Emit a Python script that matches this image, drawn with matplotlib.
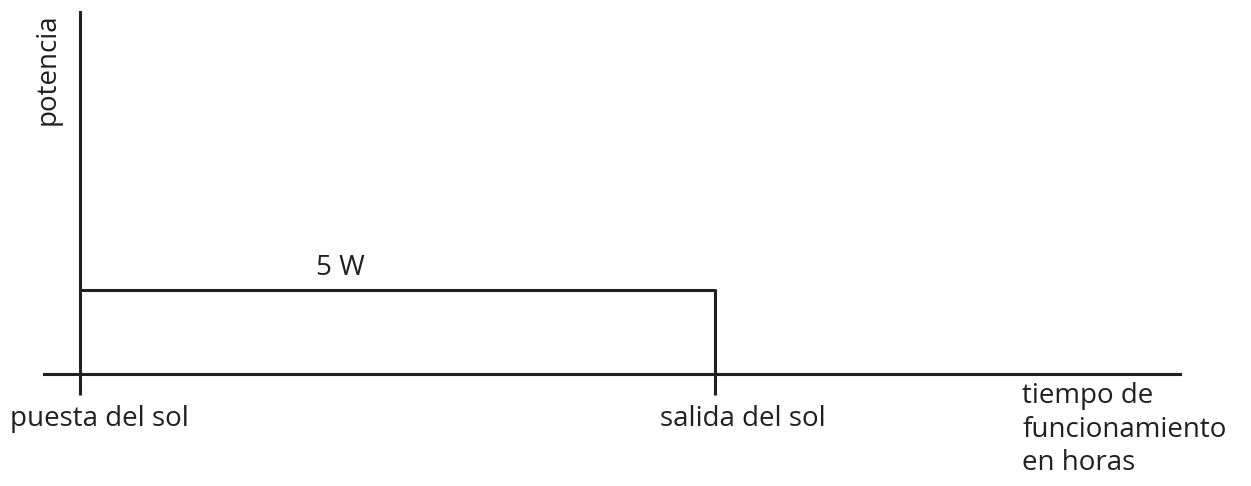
import matplotlib
matplotlib.use("Agg")
import matplotlib.pyplot as plt

# data: light runs from sunset to sunrise at constant power
hours = [0, 12]
power = [5, 5]
tick_labels = ["puesta del sol", "salida del sol"]
power_label = "5 W"
x_label = "tiempo de\nfuncionamiento\nen horas"
y_label = "potencia"

ink = "#231f20"
fs = 20
plt.rcParams["font.family"] = ["Open Sans", "DejaVu Sans"]

fig = plt.figure(figsize=(12.51, 4.86), dpi=100)
ax = fig.add_axes([0, 0, 1, 1])
ax.set_xlim(-1.51, 22.13)
ax.set_ylim(-6.67, 22.26)

# power curve: flat line then drop at sunrise
ax.plot([hours[0], hours[1], hours[1]], [power[0], power[1], 0],
        color=ink, lw=2.2, solid_capstyle="butt")
ax.annotate(power_label, xy=(4.92, power[0]), xytext=(0, 6),
            textcoords="offset points", ha="center", va="bottom",
            fontsize=fs, color=ink)

# axes as crossing lines
for s in ["top", "right"]:
    ax.spines[s].set_visible(False)
ax.spines["left"].set_position(("data", 0))
ax.spines["bottom"].set_position(("data", 0))
ax.spines["left"].set_bounds(0, 21.55)
ax.spines["bottom"].set_bounds(-0.68, 20.79)
for s in ["left", "bottom"]:
    ax.spines[s].set_linewidth(2.2)
    ax.spines[s].set_color(ink)

ax.set_yticks([])
ax.set_xticks(hours)
ax.set_xticklabels(["", ""])
ax.tick_params(axis="x", direction="out", length=15, width=2.2,
               color=ink)
ax.patch.set_visible(False)

# tick labels sit a bit to the right of their ticks
for h, lab, dx in zip(hours, tick_labels, [14.4, 19.8]):
    ax.annotate(lab, xy=(h, 0), xytext=(dx, -22),
                textcoords="offset points", ha="center", va="top",
                fontsize=fs, color=ink)

ax.set_ylabel(y_label, fontsize=fs, color=ink)
ax.yaxis.set_label_coords(62 / 1251, 1 - 69 / 486)

ax.text(17.81, -0.5, x_label, ha="left", va="top", fontsize=fs,
        color=ink, linespacing=1.26)

fig.savefig("out.png", dpi=100)
